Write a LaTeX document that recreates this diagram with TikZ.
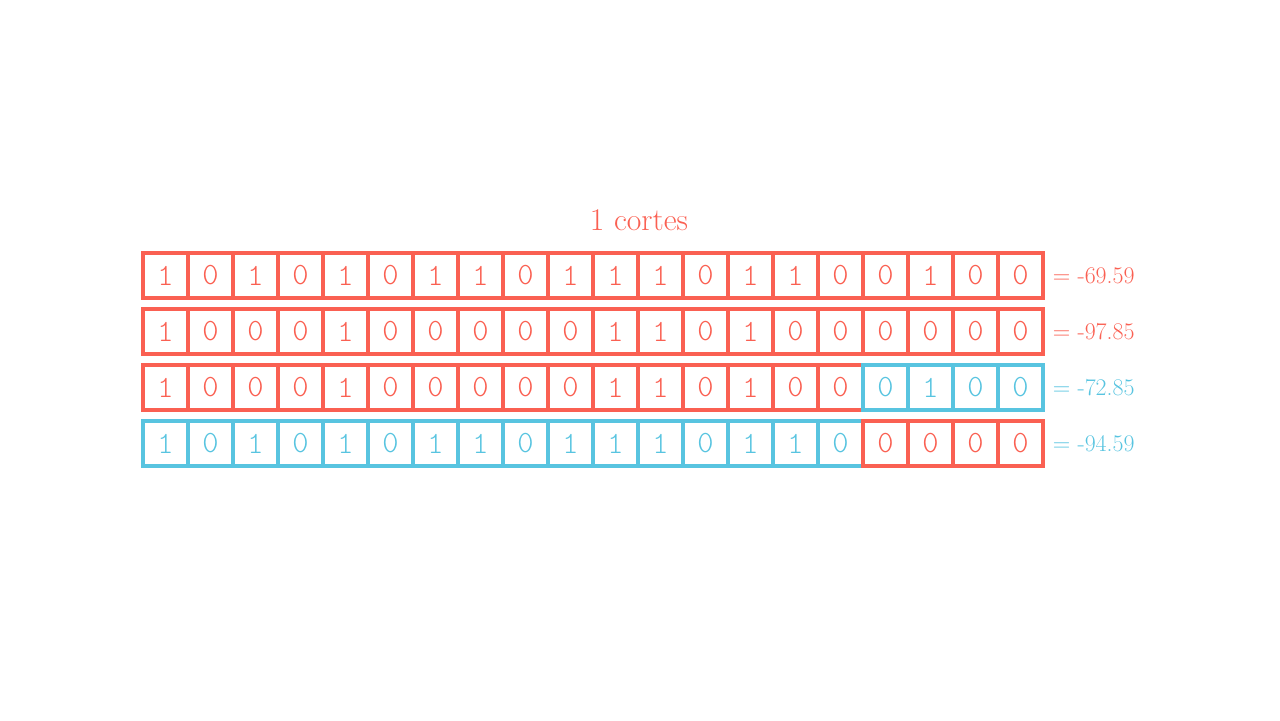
\documentclass[tikz,border=0pt]{standalone}
\usepackage{tikz}
\usetikzlibrary{positioning}
\definecolor{cred}{RGB}{250,96,82}
\definecolor{cblue}{RGB}{88,196,224}
\tikzstyle{cell}=[rectangle, draw, line width=2.2pt, minimum size=1.125cm,
                  inner sep=0pt, font=\fontsize{22}{22}\fontseries{l}\ttfamily]
\tikzstyle{redcell}=[cell, draw=cred, text=cred]
\tikzstyle{bluecell}=[cell, draw=cblue, text=cblue]
\tikzstyle{score}=[anchor=west, inner sep=0pt, font=\fontsize{17}{17}\selectfont]

\begin{document}
\begin{tikzpicture}
    \useasboundingbox (0,0) rectangle (32,18);
    \node [text=cred, font=\fontsize{22.5}{22.5}\selectfont] at (15.975,12.5) (title) {1 cortes};
    % row 1
    \foreach \d [count=\i] in {1,0,1,0,1,0,1,1,0,1,1,1,0,1,1,0,0,1,0,0}
      \node [redcell] at (3.0125+1.125*\i,11.1125) (r1c\i) {\d};
    % row 2
    \foreach \d [count=\i] in {1,0,0,0,1,0,0,0,0,0,1,1,0,1,0,0,0,0,0,0}
      \node [redcell] at (3.0125+1.125*\i,9.7125) (r2c\i) {\d};
    % row 3
    \foreach \d [count=\i] in {1,0,0,0,1,0,0,0,0,0,1,1,0,1,0,0}
      \node [redcell] at (3.0125+1.125*\i,8.3125) (r3c\i) {\d};
    \foreach \d [count=\i from 17] in {0,1,0,0}
      \node [bluecell] at (3.0125+1.125*\i,8.3125) (r3c\i) {\d};
    % row 4
    \foreach \d [count=\i] in {1,0,1,0,1,0,1,1,0,1,1,1,0,1,1,0}
      \node [bluecell] at (3.0125+1.125*\i,6.9125) (r4c\i) {\d};
    \foreach \d [count=\i from 17] in {0,0,0,0}
      \node [redcell] at (3.0125+1.125*\i,6.9125) (r4c\i) {\d};
    % scores
    \node [score, text=cred, right=0.2cm of r1c20.east] (s1) {$=$ -69.59};
    \node [score, text=cred, right=0.2cm of r2c20.east] (s2) {$=$ -97.85};
    \node [score, text=cblue, right=0.2cm of r3c20.east] (s3) {$=$ -72.85};
    \node [score, text=cblue, right=0.2cm of r4c20.east] (s4) {$=$ -94.59};
\end{tikzpicture}
\end{document}
